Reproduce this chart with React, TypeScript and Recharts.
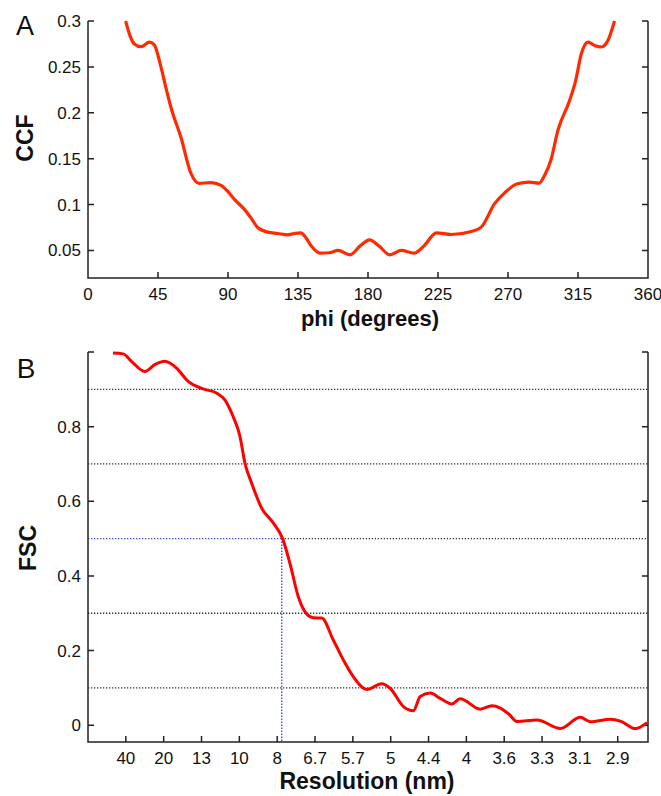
import React from 'react';
import { LineChart, Line, XAxis, YAxis, ReferenceLine } from 'recharts';

// panel A: cross-correlation vs in-plane angle
const phiDeg = [
  24.2, 26.6, 29.8, 34.1, 39.4, 42.6, 46.9, 50, 53.3, 59.8, 66.2, 71.5, 79, 85.5, 90, 94,
  100.4, 105, 109.1, 115.5, 122, 128.3, 132.5, 136.9, 140, 143.3, 149.7, 155, 160.8, 168.5,
  175, 181, 187, 193.9, 201.4, 209.5, 216, 224, 233.5, 246.4, 252.8, 261.4, 268, 276,
  283.6, 290, 293.5, 297.5, 302.1, 309.6, 313.5, 317.1, 321.4, 326, 330, 334.3, 338.5,
];
const ccfValues = [
  0.3, 0.286, 0.275, 0.272, 0.277, 0.274, 0.25, 0.228, 0.206, 0.173, 0.134, 0.123, 0.124, 0.121, 0.114, 0.106,
  0.095, 0.085, 0.075, 0.07, 0.0685, 0.067, 0.0685, 0.0692, 0.064, 0.0555, 0.047, 0.0475, 0.05, 0.0453,
  0.055, 0.0616, 0.055, 0.0453, 0.05, 0.047, 0.055, 0.0692, 0.0674, 0.0707, 0.0754, 0.101, 0.113, 0.1227,
  0.1244, 0.1233, 0.1317, 0.148, 0.181, 0.2135, 0.235, 0.264, 0.277, 0.273, 0.2717, 0.279, 0.3,
];
const phiTicks = [0, 45, 90, 135, 180, 225, 270, 315, 360];
const ccfTicks = [0.05, 0.1, 0.15, 0.2, 0.25, 0.3];
const phiDomain = [0, 360];
const ccfDomain = [0.02, 0.3];

// panel B: Fourier shell correlation vs spatial frequency (1/nm)
const spatialFreq = [
  0.0165, 0.0232, 0.0287, 0.0375, 0.0441, 0.0507, 0.0585, 0.0662, 0.0761, 0.0849, 0.0904, 0.0959,
  0.1004, 0.1037, 0.1081, 0.1147, 0.1224, 0.1286, 0.1334, 0.1389, 0.1445, 0.1489, 0.1544, 0.162,
  0.1687, 0.1753, 0.1842, 0.194, 0.1996, 0.2084, 0.215, 0.2195, 0.226, 0.2327, 0.2404, 0.2459,
  0.2591, 0.2669, 0.2724, 0.278, 0.2834, 0.2967, 0.3121, 0.3253, 0.3319, 0.3452, 0.3518, 0.3617, 0.3694,
];
const fscValues = [
  0.997, 0.995, 0.975, 0.948, 0.966, 0.975, 0.957, 0.921, 0.901, 0.89, 0.872, 0.827,
  0.774, 0.702, 0.649, 0.582, 0.542, 0.5, 0.434, 0.345, 0.298, 0.288, 0.287, 0.229,
  0.175, 0.13, 0.096, 0.111, 0.099, 0.05, 0.039, 0.077, 0.086, 0.072, 0.057, 0.071,
  0.043, 0.052, 0.046, 0.03, 0.01, 0.014, -0.009, 0.021, 0.009, 0.016, 0.011, -0.009, 0.007,
];
const freqTicks = [0.025, 0.05, 0.075, 0.1, 0.125, 0.15, 0.175, 0.2, 0.225, 0.25, 0.275, 0.3, 0.325, 0.35];
const resolutionLabels = ['40', '20', '13', '10', '8', '6.7', '5.7', '5', '4.4', '4', '3.6', '3.3', '3.1', '2.9'];
const fscTicks = [0, 0.2, 0.4, 0.6, 0.8, 1];
const freqDomain = [0, 0.37];
const fscDomain = [-0.045, 1];
const thresholdLines = [0.1, 0.3, 0.7, 0.9];
const halfBitCutoff = 0.128;
const fscCut = 0.5;

const PLOT_W = 560;
const PLOT_A_H = 257;
const PLOT_B_H = 390;
const TICK_PX = 6;

const ccfData = phiDeg.map((phi, i) => ({ phi, ccf: ccfValues[i] }));
const fscData = spatialFreq.map((f, i) => ({ f, fsc: fscValues[i] }));

// 0.5 crossing marker: blue to the left of the cutoff, black to the right, blue drop to the axis
const cutLeft = [{ f: 0, v: fscCut }, { f: halfBitCutoff, v: fscCut }];
const cutRight = [{ f: halfBitCutoff, v: fscCut }, { f: freqDomain[1], v: fscCut }];
const cutDrop = [{ f: halfBitCutoff, v: fscCut }, { f: halfBitCutoff, v: fscDomain[0] }];

// box frame plus inward tick marks, as a broken polyline in data units
function frameWithTicks(xKey: string, xDom: number[], yDom: number[], xTicks: number[], yTicks: number[], plotH: number) {
  const dx = (TICK_PX * (xDom[1] - xDom[0])) / PLOT_W;
  const dy = (TICK_PX * (yDom[1] - yDom[0])) / plotH;
  const pts: any[] = [
    { [xKey]: xDom[0], v: yDom[1] },
    { [xKey]: xDom[0], v: yDom[0] },
    { [xKey]: xDom[1], v: yDom[0] },
    { [xKey]: xDom[1], v: yDom[1] },
    { [xKey]: xDom[1], v: null },
  ];
  xTicks.forEach((t) => {
    pts.push({ [xKey]: t, v: yDom[0] }, { [xKey]: t, v: yDom[0] + dy }, { [xKey]: t, v: null });
  });
  yTicks.forEach((t) => {
    pts.push({ [xKey]: xDom[0], v: t }, { [xKey]: xDom[0] + dx, v: t }, { [xKey]: xDom[0], v: null });
    pts.push({ [xKey]: xDom[1], v: t }, { [xKey]: xDom[1] - dx, v: t }, { [xKey]: xDom[1], v: null });
  });
  return pts;
}

const frameA = frameWithTicks('phi', phiDomain, ccfDomain, phiTicks, ccfTicks, PLOT_A_H);
const frameB = frameWithTicks('f', freqDomain, fscDomain, freqTicks, fscTicks, PLOT_B_H);

const FONT = '"Liberation Sans", Arial, sans-serif';
const INK = '#222';
const tickFont = { fontFamily: FONT, fontSize: 17, fill: '#111' };
const dotted = { strokeWidth: 1.3, strokeDasharray: '1.3 1.7' };

export default function App() {
  return (
    <div style={{ position: 'absolute', left: 0, top: 0, width: 661, height: 796, background: '#fff' }}>
      <LineChart width={661} height={340} data={ccfData} margin={{ top: 21, right: 13, bottom: 22, left: 28 }}>
        <XAxis
          dataKey="phi"
          type="number"
          domain={phiDomain}
          ticks={phiTicks}
          height={40}
          axisLine={false}
          tickLine={false}
          tickSize={-6}
          tickMargin={16}
          tick={tickFont}
        />
        <YAxis
          type="number"
          domain={ccfDomain}
          ticks={ccfTicks}
          width={60}
          axisLine={false}
          tickLine={false}
          tickSize={-6}
          tickMargin={13}
          tick={tickFont}
        />
        <Line data={frameA} dataKey="v" type="linear" stroke={INK} strokeWidth={1.5} dot={false} isAnimationActive={false} />
        <Line type="monotone" dataKey="ccf" stroke="#ff2a00" strokeWidth={3.2} dot={false} isAnimationActive={false} />
        <text x={25} y={35} textAnchor="middle" fontFamily={FONT} fontSize={27} fill="#111">A</text>
        <text x={33} y={138} transform="rotate(-90, 33, 138)" textAnchor="middle" fontFamily={FONT} fontSize={23} fontWeight="bold" fill="#111">CCF</text>
        <text x={370} y={326} textAnchor="middle" fontFamily={FONT} fontSize={22} fontWeight="bold" fill="#111">phi (degrees)</text>
      </LineChart>

      <LineChart width={661} height={456} data={fscData} margin={{ top: 12, right: 13, bottom: 14, left: 28 }}>
        <XAxis
          dataKey="f"
          type="number"
          domain={freqDomain}
          ticks={freqTicks}
          tickFormatter={(v: number) => resolutionLabels[freqTicks.indexOf(v)] ?? ''}
          height={40}
          axisLine={false}
          tickLine={false}
          tickSize={-6}
          tickMargin={16}
          tick={tickFont}
        />
        <YAxis
          type="number"
          domain={fscDomain}
          ticks={fscTicks}
          tickFormatter={(v: number) => (v === 1 ? '' : String(v))}
          width={60}
          axisLine={false}
          tickLine={false}
          tickSize={-6}
          tickMargin={13}
          tick={tickFont}
        />
        {thresholdLines.map((v) => (
          <ReferenceLine key={v} y={v} stroke="#333" {...dotted} />
        ))}
        <Line data={cutRight} dataKey="v" type="linear" stroke="#333" {...dotted} dot={false} isAnimationActive={false} />
        <Line data={cutLeft} dataKey="v" type="linear" stroke="#3344ff" {...dotted} dot={false} isAnimationActive={false} />
        <Line data={cutDrop} dataKey="v" type="linear" stroke="#3344ff" {...dotted} dot={false} isAnimationActive={false} />
        <Line data={frameB} dataKey="v" type="linear" stroke={INK} strokeWidth={1.5} dot={false} isAnimationActive={false} />
        <Line type="monotone" dataKey="fsc" stroke="#ff0000" strokeWidth={3} dot={false} isAnimationActive={false} />
        <text x={26} y={38} textAnchor="middle" fontFamily={FONT} fontSize={28} fill="#111">B</text>
        <text x={36} y={208} transform="rotate(-90, 36, 208)" textAnchor="middle" fontFamily={FONT} fontSize={23} fontWeight="bold" fill="#111">FSC</text>
        <text x={367} y={449} textAnchor="middle" fontFamily={FONT} fontSize={23} fontWeight="bold" fill="#111">Resolution (nm)</text>
      </LineChart>
    </div>
  );
}
